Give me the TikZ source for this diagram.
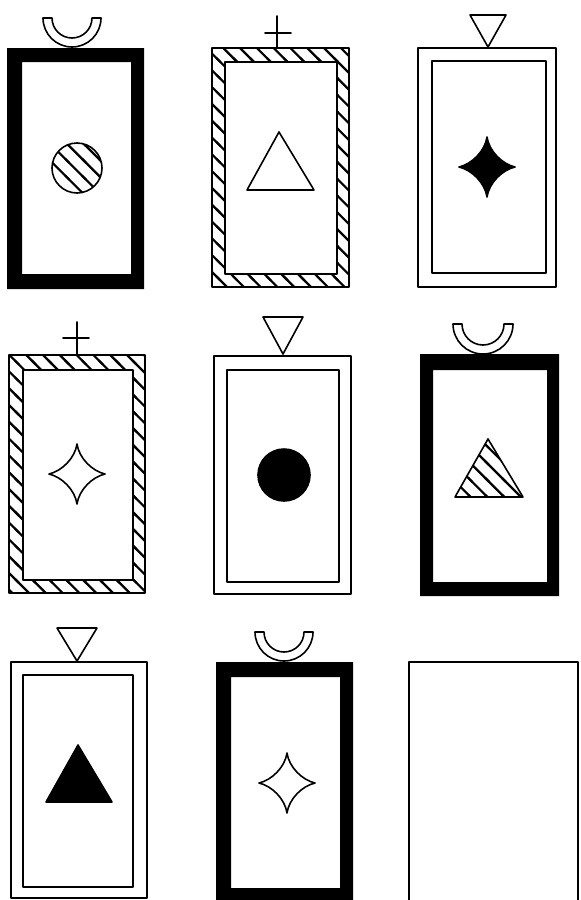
\documentclass[tikz,border=0pt]{standalone}
\usetikzlibrary{calc,patterns}

\pgfdeclarepatternformonly{cardhatch}{\pgfpoint{-2pt}{-2pt}}{\pgfpoint{10.4pt}{10.4pt}}{\pgfpoint{8.4pt}{8.4pt}}{
  \pgfsetlinewidth{1.1pt}
  \pgfpathmoveto{\pgfpoint{-1pt}{9.4pt}}
  \pgfpathlineto{\pgfpoint{9.4pt}{-1pt}}
  \pgfusepath{stroke}
}

\begin{document}
\begin{tikzpicture}[x=0.5pt, y=-0.5pt, line cap=round, line join=round]
  \tikzset{
    edge/.style={line width=0.8pt, draw=black},
    frameblack/.style={fill=black, even odd rule},
    framehatch/.style={pattern=cardhatch, even odd rule},
    hatch/.style={pattern=cardhatch},
    sparkle/.pic={
      \path[pic actions] (0,-30) .. controls (2,-16) and (15,-3) .. (28,0)
        .. controls (15,3) and (2,16) .. (0,30)
        .. controls (-2,16) and (-15,3) .. (-28,0)
        .. controls (-15,-3) and (-2,-16) .. cycle;
    }
  }
  \useasboundingbox (0,0) rectangle (580,900);
  \clip (0,0) rectangle (580,900);

  % Card 1: black frame, cup, hatched circle
  \fill[frameblack] (7,48) rectangle (144,289) (22,62) rectangle (131,274);
  \coordinate (cup1) at (72,18);
  \filldraw[edge, fill=white] ($(cup1)+(-29,0)$) arc[start angle=180, end angle=0, radius=29]
    -- ++(-9,0) arc[start angle=0, end angle=180, radius=20] -- cycle;
  \coordinate (mid1) at (77,168);
  \draw[edge, hatch] (mid1) circle[radius=25];

  % Card 2: hatched frame, cross, open triangle
  \fill[framehatch] (212,48) rectangle (349,287) (225,62) rectangle (337,274);
  \draw[edge] (212,48) rectangle (349,287) (225,62) rectangle (337,274);
  \coordinate (cross2) at (277,33);
  \draw[edge] ($(cross2)+(0,-17)$) -- ($(cross2)+(0,15)$) ($(cross2)+(-12,0)$) -- ($(cross2)+(14,0)$);
  \coordinate (mid2) at (280,168);
  \draw[edge] ($(mid2)+(-1,-36)$) -- ($(mid2)+(34,22)$) -- ($(mid2)+(-33,22)$) -- cycle;

  % Card 3: double frame, down triangle, black sparkle
  \draw[edge] (418,48) rectangle (556,287) (432,61) rectangle (546,273);
  \coordinate (tri3) at (488,47);
  \filldraw[edge, fill=white] (tri3) -- ++(-18,-32) -- ++(36,0) -- cycle;
  \coordinate (mid3) at (487,167);
  \pic[edge, fill=black] at (mid3) {sparkle};

  % Card 4: hatched frame, cross, open sparkle
  \fill[framehatch] (9,355) rectangle (145,593) (23,370) rectangle (133,580);
  \draw[edge] (9,355) rectangle (145,593) (23,370) rectangle (133,580);
  \coordinate (cross4) at (77,338);
  \draw[edge] ($(cross4)+(0,-16)$) -- ($(cross4)+(0,17)$) ($(cross4)+(-14,0)$) -- ($(cross4)+(12,0)$);
  \coordinate (mid4) at (77,474);
  \pic[edge] at (mid4) {sparkle};

  % Card 5: double frame, down triangle, black circle
  \draw[edge] (214,356) rectangle (351,594) (227,370) rectangle (339,582);
  \coordinate (tri5) at (283,354);
  \filldraw[edge, fill=white] (tri5) -- ++(-20,-37) -- ++(40,0) -- cycle;
  \coordinate (mid5) at (284,475);
  \filldraw[edge, fill=black] (mid5) circle[radius=26];

  % Card 6: black frame, cup, hatched triangle
  \fill[frameblack] (420,354) rectangle (559,596) (433,370) rectangle (547,582);
  \coordinate (cup6) at (483,324);
  \filldraw[edge, fill=white] ($(cup6)+(-30,0)$) arc[start angle=180, end angle=0, radius=30]
    -- ++(-9,0) arc[start angle=0, end angle=180, radius=21] -- cycle;
  \coordinate (mid6) at (489,468);
  \draw[edge, hatch] ($(mid6)+(-1,-29)$) -- ($(mid6)+(34,29)$) -- ($(mid6)+(-34,29)$) -- cycle;

  % Card 7: double frame, down triangle, black triangle
  \draw[edge] (11,662) rectangle (147,898) (23,675) rectangle (133,887);
  \coordinate (tri7) at (77,661);
  \filldraw[edge, fill=white] (tri7) -- ++(-20,-33) -- ++(40,0) -- cycle;
  \coordinate (mid7) at (79,774);
  \filldraw[edge, fill=black] ($(mid7)+(-1,-29)$) -- ($(mid7)+(33,28)$) -- ($(mid7)+(-33,28)$) -- cycle;

  % Card 8: black frame, cup, open sparkle
  \fill[frameblack] (216,662) rectangle (353,910) (231,677) rectangle (340,888);
  \coordinate (cup8) at (284,632);
  \filldraw[edge, fill=white] ($(cup8)+(-29,0)$) arc[start angle=180, end angle=0, radius=29]
    -- ++(-9,0) arc[start angle=0, end angle=180, radius=20] -- cycle;
  \coordinate (mid8) at (287,783);
  \pic[edge] at (mid8) {sparkle};

  % Card 9: empty
  \draw[edge] (409,910) -- (409,662) -- (578,662) -- (578,910);

\end{tikzpicture}
\end{document}
